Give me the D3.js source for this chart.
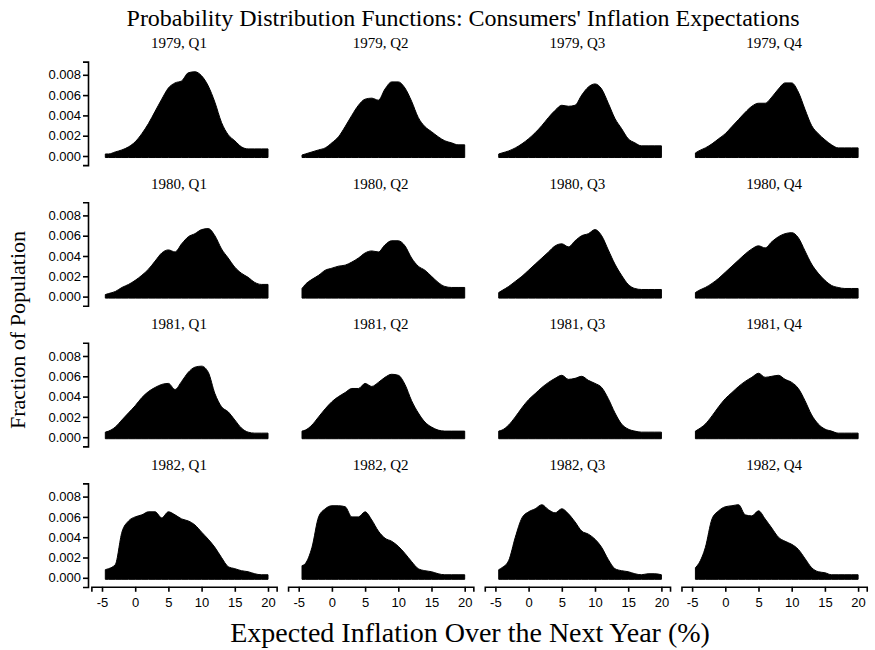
<!DOCTYPE html>
<html>
<head>
<meta charset="utf-8">
<title>Consumers' Inflation Expectations</title>
<style>
  body { margin: 0; background: #fff; }
  svg { font-family: "Liberation Serif", "Times New Roman", serif; }
  .axis path, .axis line { stroke: #000; stroke-width: 1.6px; }
  .axis text { font-size: 13px; fill: #000; }
  .ptitle { font-size: 15px; }
</style>
</head>
<body>
<svg width="875" height="650"></svg>
<script src="https://cdn.jsdelivr.net/npm/d3@7"></script>
<script>

// expected inflation grid (%)
var xs = [-4.5, -4, -3, -2, -1, 0, 1, 2, 3, 4, 5, 6, 7, 8, 9, 10, 11, 12, 13, 14, 15, 16, 17, 18, 19, 20];

var panels = ["1979, Q1", "1979, Q2", "1979, Q3", "1979, Q4",
              "1980, Q1", "1980, Q2", "1980, Q3", "1980, Q4",
              "1981, Q1", "1981, Q2", "1981, Q3", "1981, Q4",
              "1982, Q1", "1982, Q2", "1982, Q3", "1982, Q4"];

// fraction of population at each xs point
var q1979_1 = [0.0002,0.0002,0.0004,0.0006,0.0009,0.0014,0.0022,0.0032,0.0044,0.0056,0.0067,0.0072,0.0074,0.0082,0.0083,0.0079,0.0069,0.0053,0.0033,0.0021,0.0015,0.0009,0.0007,0.0007,0.0007,0.0007];
var q1979_2 = [0.0001,0.0002,0.0004,0.0006,0.0008,0.0013,0.0019,0.0029,0.0040,0.0050,0.0056,0.0057,0.0055,0.0066,0.0073,0.0073,0.0067,0.0054,0.0038,0.0029,0.0024,0.0019,0.0015,0.0013,0.0011,0.0011];
var q1979_3 = [0.0002,0.0003,0.0005,0.0008,0.0012,0.0017,0.0023,0.0030,0.0038,0.0045,0.0050,0.0049,0.0050,0.0060,0.0068,0.0071,0.0066,0.0052,0.0037,0.0027,0.0017,0.0013,0.0010,0.0010,0.0010,0.0010];
var q1979_4 = [0.0003,0.0005,0.0008,0.0012,0.0017,0.0022,0.0029,0.0036,0.0043,0.0049,0.0052,0.0052,0.0058,0.0066,0.0072,0.0072,0.0063,0.0046,0.0030,0.0022,0.0016,0.0011,0.0008,0.0008,0.0008,0.0008];
var q1980_1 = [0.0002,0.0003,0.0005,0.0009,0.0012,0.0016,0.0021,0.0027,0.0035,0.0043,0.0046,0.0044,0.0052,0.0059,0.0062,0.0066,0.0067,0.0060,0.0047,0.0038,0.0029,0.0023,0.0019,0.0014,0.0012,0.0012];
var q1980_2 = [0.0008,0.0012,0.0017,0.0021,0.0026,0.0028,0.0030,0.0031,0.0034,0.0038,0.0043,0.0045,0.0044,0.0051,0.0055,0.0055,0.0050,0.0038,0.0030,0.0026,0.0020,0.0014,0.0010,0.0009,0.0009,0.0009];
var q1980_3 = [0.0004,0.0006,0.0010,0.0015,0.0020,0.0026,0.0032,0.0038,0.0044,0.0050,0.0052,0.0049,0.0055,0.0060,0.0062,0.0066,0.0060,0.0046,0.0032,0.0021,0.0012,0.0008,0.0007,0.0007,0.0007,0.0007];
var q1980_4 = [0.0004,0.0006,0.0009,0.0013,0.0018,0.0024,0.0030,0.0036,0.0042,0.0047,0.0050,0.0048,0.0054,0.0059,0.0062,0.0063,0.0058,0.0045,0.0032,0.0023,0.0016,0.0011,0.0009,0.0008,0.0008,0.0008];
var q1981_1 = [0.0005,0.0006,0.0010,0.0017,0.0024,0.0031,0.0039,0.0045,0.0049,0.0052,0.0053,0.0047,0.0055,0.0064,0.0069,0.0070,0.0064,0.0043,0.0030,0.0025,0.0017,0.0009,0.0005,0.0004,0.0004,0.0004];
var q1981_2 = [0.0006,0.0007,0.0012,0.0020,0.0028,0.0035,0.0040,0.0044,0.0048,0.0048,0.0053,0.0050,0.0054,0.0059,0.0062,0.0061,0.0052,0.0036,0.0024,0.0015,0.0010,0.0007,0.0006,0.0006,0.0006,0.0006];
var q1981_3 = [0.0006,0.0007,0.0012,0.0020,0.0029,0.0037,0.0043,0.0049,0.0054,0.0058,0.0061,0.0057,0.0058,0.0060,0.0056,0.0053,0.0049,0.0038,0.0024,0.0013,0.0008,0.0006,0.0005,0.0005,0.0005,0.0005];
var q1981_4 = [0.0006,0.0008,0.0013,0.0021,0.0030,0.0038,0.0044,0.0050,0.0055,0.0059,0.0063,0.0059,0.0060,0.0061,0.0057,0.0054,0.0048,0.0036,0.0022,0.0013,0.0008,0.0006,0.0004,0.0004,0.0004,0.0004];
var q1982_1 = [0.0008,0.0009,0.0013,0.0045,0.0056,0.0060,0.0062,0.0065,0.0065,0.0059,0.0065,0.0062,0.0058,0.0056,0.0052,0.0045,0.0038,0.0030,0.0020,0.0011,0.0009,0.0007,0.0006,0.0004,0.0003,0.0003];
var q1982_2 = [0.0012,0.0014,0.0030,0.0060,0.0068,0.0071,0.0071,0.0070,0.0060,0.0060,0.0065,0.0057,0.0046,0.0039,0.0036,0.0031,0.0024,0.0016,0.0009,0.0007,0.0006,0.0004,0.0003,0.0003,0.0003,0.0003];
var q1982_3 = [0.0008,0.0010,0.0017,0.0040,0.0059,0.0065,0.0068,0.0072,0.0067,0.0064,0.0068,0.0063,0.0055,0.0046,0.0043,0.0038,0.0030,0.0018,0.0009,0.0007,0.0006,0.0004,0.0003,0.0004,0.0004,0.0003];
var q1982_4 = [0.0010,0.0014,0.0030,0.0058,0.0066,0.0070,0.0071,0.0072,0.0062,0.0061,0.0066,0.0058,0.0049,0.0040,0.0036,0.0033,0.0028,0.0019,0.0010,0.0006,0.0005,0.0003,0.0003,0.0003,0.0003,0.0003];

var series = [q1979_1, q1979_2, q1979_3, q1979_4,
              q1980_1, q1980_2, q1980_3, q1980_4,
              q1981_1, q1981_2, q1981_3, q1981_4,
              q1982_1, q1982_2, q1982_3, q1982_4];

var yTicks = [0, 0.002, 0.004, 0.006, 0.008];
var xTicks = [-5, 0, 5, 10, 15, 20];

var svg = d3.select("svg");

// panel grid
var colLeft = 102, colStep = 196.7, panelW = 166;
var rowZero = 156, rowStep = 140.6, unitH = 10150; // px per 1.0 of fraction

svg.append("text")
  .attr("x", 463).attr("y", 26)
  .attr("text-anchor", "middle")
  .style("font-size", "24px")
  .text("Probability Distribution Functions: Consumers' Inflation Expectations");

svg.append("text")
  .attr("transform", "translate(25,330) rotate(-90)")
  .attr("text-anchor", "middle")
  .style("font-size", "22px")
  .text("Fraction of Population");

svg.append("text")
  .attr("x", 470).attr("y", 642)
  .attr("text-anchor", "middle")
  .style("font-size", "28px")
  .text("Expected Inflation Over the Next Year (%)");

panels.forEach(function(name, i) {
  var r = Math.floor(i / 4), c = i % 4;
  var x0 = colLeft + c * colStep;
  var y0 = rowZero + r * rowStep;

  var x = d3.scaleLinear().domain([-5, 20]).range([x0, x0 + panelW]);
  var y = d3.scaleLinear().domain([0, 0.01]).range([y0, y0 - unitH * 0.01]);

  var g = svg.append("g").attr("class", "panel");

  var area = d3.area()
    .x(function(d, k) { return x(xs[k]); })
    .y0(y(-0.00015))
    .y1(function(d) { return y(d); })
    .curve(d3.curveMonotoneX);

  g.append("path")
    .datum(series[i])
    .attr("d", area)
    .attr("fill", "#000")
    .attr("stroke", "#000")
    .attr("stroke-width", 1);

  g.append("text")
    .attr("class", "ptitle")
    .attr("x", x0 + panelW / 2 - (c == 0 ? 6 : 1))
    .attr("y", y0 - 108)
    .attr("text-anchor", "middle")
    .text(name);

  if (c == 0) {
    var yAx = d3.scaleLinear().domain([-0.0009, 0.0093]).range([y(-0.0009), y(0.0093)]);
    svg.append("g")
      .attr("class", "axis")
      .attr("transform", "translate(88,0)")
      .call(d3.axisLeft(yAx).tickValues(yTicks).tickSizeOuter(0).tickSize(5).tickPadding(2)
        .tickFormat(d3.format(".3f")));
  }

  if (r == 3) {
    var xAx = d3.scaleLinear().domain([-6.6, 21.3]).range([x(-6.6), x(21.3)]);
    svg.append("g")
      .attr("class", "axis")
      .attr("transform", "translate(0," + (y0 + 9) + ")")
      .call(d3.axisBottom(xAx).tickValues(xTicks).tickSizeOuter(0).tickSize(5).tickPadding(6)
        .tickFormat(function(d) { return String(d); }));
  }
});

</script>
</body>
</html>
